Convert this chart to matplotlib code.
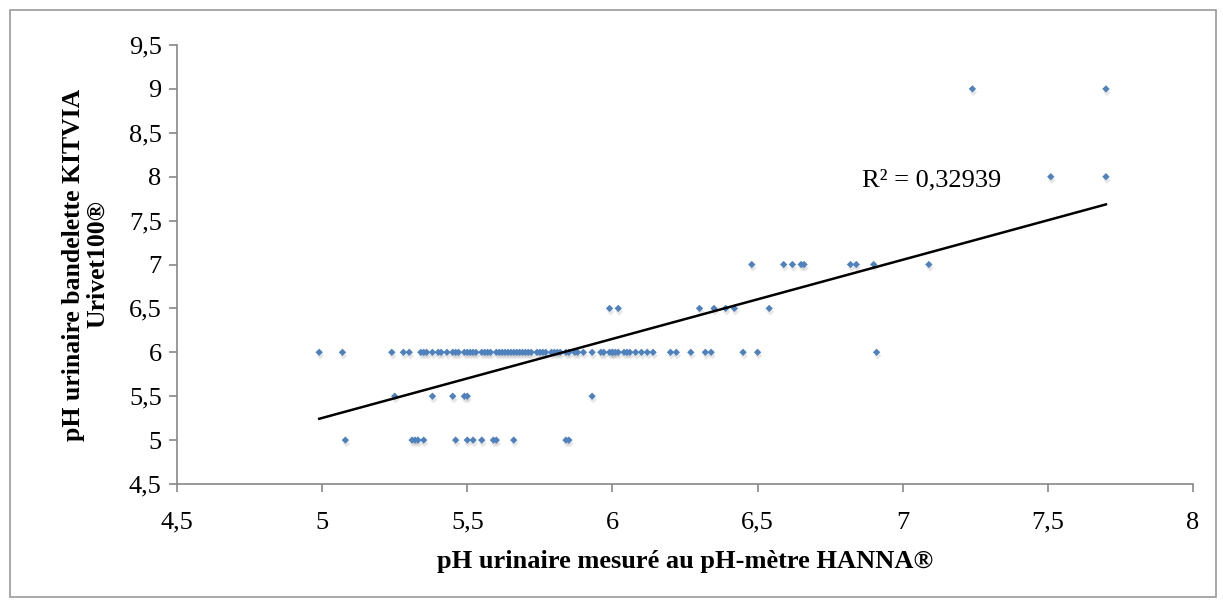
import numpy as np
import matplotlib
matplotlib.use("Agg")
import matplotlib.pyplot as plt
import matplotlib.patheffects as pe
from matplotlib.patches import Rectangle
from matplotlib.ticker import FuncFormatter, MultipleLocator

plt.rcParams['font.family'] = ['Liberation Serif', 'DejaVu Serif']

# pH meter values (x) grouped by strip reading (y)
x_at_5 = [5.08, 5.31, 5.32, 5.33, 5.35, 5.46, 5.50, 5.52, 5.55, 5.59, 5.60,
          5.66, 5.84, 5.85]
x_at_55 = [5.25, 5.38, 5.45, 5.49, 5.50, 5.93]
x_at_6 = [4.99, 5.07, 5.24, 5.28, 5.30, 5.34, 5.35, 5.36, 5.38, 5.40, 5.41,
          5.43, 5.45, 5.46, 5.47, 5.49, 5.50, 5.51, 5.52, 5.53, 5.55, 5.56,
          5.57, 5.58, 5.60, 5.61, 5.62, 5.63, 5.64, 5.65, 5.66, 5.67, 5.68,
          5.69, 5.70, 5.71, 5.72, 5.74, 5.75, 5.76, 5.77, 5.79, 5.80, 5.81,
          5.82, 5.84, 5.85, 5.87, 5.88, 5.90, 5.93, 5.96, 5.97, 5.99, 6.00,
          6.00, 6.01, 6.02, 6.04, 6.05, 6.06, 6.08, 6.10, 6.12, 6.14, 6.20,
          6.22, 6.27, 6.32, 6.34, 6.45, 6.50, 6.91]
x_at_65 = [5.99, 6.02, 6.30, 6.35, 6.39, 6.42, 6.54]
x_at_7 = [6.48, 6.59, 6.62, 6.65, 6.66, 6.82, 6.84, 6.90, 7.09]
x_at_8 = [7.51, 7.70]
x_at_9 = [7.24, 7.70]

groups = [(5.0, x_at_5), (5.5, x_at_55), (6.0, x_at_6), (6.5, x_at_65),
          (7.0, x_at_7), (8.0, x_at_8), (9.0, x_at_9)]

# trendline
trend_slope = 0.901
trend_intercept = 0.747
r2_label = "R² = 0,32939"

x_vals = np.concatenate([np.array(xs) for _, xs in groups])
y_vals = np.concatenate([np.full(len(xs), y) for y, xs in groups])

fig = plt.figure(figsize=(12.23, 6.05), dpi=100)
ax = fig.add_axes([0.1447, 0.2, 0.8308, 0.7256])

ax.scatter(x_vals, y_vals, marker='D', s=14, color='#4F81BD', linewidths=0,
           zorder=3,
           path_effects=[pe.SimplePatchShadow(offset=(0.8, -2.5), shadow_rgbFace='#888888', alpha=0.2),
                         pe.Normal()])

xl = np.array([x_vals.min(), x_vals.max()])
ax.plot(xl, trend_slope * xl + trend_intercept, color='black', lw=1.8, zorder=4)
ax.text(6.86, 7.96, r2_label, fontsize=19, va='center', ha='left')

ax.set_xlim(4.5, 8)
ax.set_ylim(4.5, 9.5)
ax.xaxis.set_major_locator(MultipleLocator(0.5))
ax.yaxis.set_major_locator(MultipleLocator(0.5))
fmt = FuncFormatter(lambda v, p: f"{v:g}".replace('.', ','))
ax.xaxis.set_major_formatter(fmt)
ax.yaxis.set_major_formatter(fmt)

for s in ['top', 'right']:
    ax.spines[s].set_visible(False)
for s in ['left', 'bottom']:
    ax.spines[s].set_color('#888888')
    ax.spines[s].set_linewidth(1.2)
ax.tick_params(colors='#888888', labelcolor='black', labelsize=19, length=6, width=1.2)
ax.tick_params(axis='x', pad=14)
ax.tick_params(axis='y', pad=5)

ax.set_xlabel("pH urinaire mesuré au pH-mètre HANNA®", fontsize=19,
              fontweight='bold', labelpad=12)
ax.set_ylabel("pH urinaire bandelette KITVIA\nUrivet100®", fontsize=18.5,
              fontweight='bold', labelpad=14, linespacing=1.1)

fig.patches.append(Rectangle((10 / 1223, 8 / 605), 1206 / 1223, 587 / 605,
                             transform=fig.transFigure, fill=False,
                             edgecolor='#999999', lw=1.2))

fig.savefig("out.png", dpi=100)
